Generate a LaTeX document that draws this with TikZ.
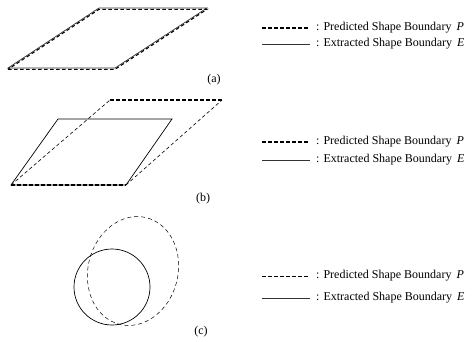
\documentclass[tikz,border=0pt]{standalone}
\usepackage{fontspec}
\setmainfont{Liberation Serif}
\usepackage{tikz}

\tikzset{
  predline/.style={black, line width=1.1pt, dash pattern=on 3.5pt off 2.5pt},
  predthin/.style={black, line width=0.6pt, dash pattern=on 3.5pt off 2.5pt},
  extline/.style={black!80, line width=0.7pt},
  legtext/.style={anchor=west, inner sep=0pt, font=\fontsize{12}{14}\selectfont},
  panellabel/.style={inner sep=0pt, font=\fontsize{12}{14}\selectfont}
}

\begin{document}
\begin{tikzpicture}[x=1pt, y=-1pt]
    \useasboundingbox (0,0) rectangle (472,341);
    % Draw panel (a)
    \coordinate (a1) at (8,68);
    \coordinate (a2) at (115,68);
    \coordinate (a3) at (207,8);
    \coordinate (a4) at (99,8);
    \draw[extline] (a1) -- (a2) -- (a3) -- (a4) -- cycle;
    \draw[predline] ([yshift=-1.3pt]a1) -- ([yshift=-1.3pt]a2) -- ([yshift=-1.3pt]a3) -- ([yshift=-1.3pt]a4) -- cycle;
    \node[panellabel] (la) at (214,80) {(a)};
    % Draw panel (b)
    \coordinate (b1) at (11,185);
    \coordinate (b2) at (126,185);
    \coordinate (b3) at (172,119);
    \coordinate (b4) at (58,119);
    \coordinate (b5) at (222,100);
    \coordinate (b6) at (110,100);
    \draw[extline, black] (b1) -- (b2) -- (b3) -- (b4) -- cycle;
    \draw[predline] (b6) -- (b5);
    \draw[predline] (b1) -- (b2);
    \draw[predthin] (b2) -- (b5);
    \draw[predthin] (b1) -- (b6);
    \node[panellabel] (lb) at (203,199) {(b)};
    % Draw panel (c)
    \node[draw, black, line width=0.7pt, circle, minimum size=76pt, inner sep=0pt] (ce) at (112,287) {};
    \draw[predthin, line width=0.5pt, dash pattern=on 4pt off 3pt] (133,271) ellipse [x radius=45, y radius=55, rotate=-14];
    \node[panellabel] (lc) at (201,332) {(c)};
    % Draw legends
    \foreach \yp/\ye/\st/\sty in {28/44/a/predline, 142/160/b/predline, 276/298/c/predthin} {
        \coordinate (p\st0) at (262,\yp);
        \coordinate (p\st1) at (308,\yp);
        \coordinate (e\st0) at (262,\ye);
        \coordinate (e\st1) at (310,\ye);
        \draw[\sty] (p\st0) -- (p\st1);
        \draw[extline] (e\st0) -- (e\st1);
        \node[legtext] (tp\st) at (316,\yp) {: Predicted Shape Boundary \,\textit{P}};
        \node[legtext] (te\st) at (316,\ye) {: Extracted Shape Boundary \,\textit{E}};
    }
\end{tikzpicture}
\end{document}
